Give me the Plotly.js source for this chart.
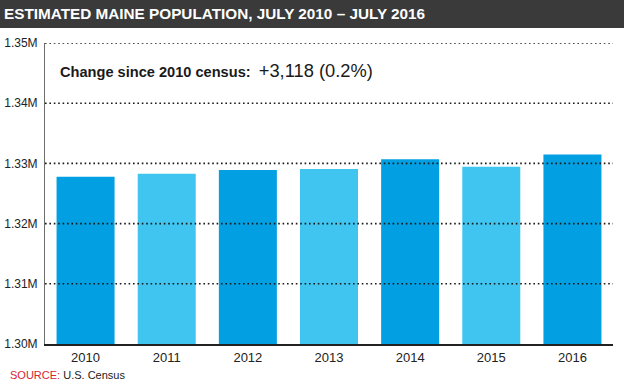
<!DOCTYPE html>
<html>
<head>
<meta charset="utf-8">
<script src="https://cdn.plot.ly/plotly-3.0.1.min.js"></script>
<style>
  html, body { margin: 0; padding: 0; background: #ffffff; }
  #chart { width: 624px; height: 390px; }
</style>
</head>
<body>
<div id="chart"></div>
<script>
// ---- data ----
const years = ['2010', '2011', '2012', '2013', '2014', '2015', '2016'];
const population = [1327780, 1328270, 1328890, 1329050, 1330710, 1329440, 1331460];
const yTickVals = [1300000, 1310000, 1320000, 1330000, 1340000, 1350000];
const yTickText = ['1.30M', '1.31M', '1.32M', '1.33M', '1.34M', '1.35M'];
const titleText = 'ESTIMATED MAINE POPULATION, JULY 2010 \u2013 JULY 2016';
const changeLabel = 'Change since 2010 census:';
const changeValue = '+3,118 (0.2%)';
const sourceLabel = 'SOURCE:';
const sourceText = 'U.S. Census';

// ---- style ----
const DARK = '#02a0e2';
const LIGHT = '#40c5f1';
const barColors = years.map((_, i) => (i % 2 === 0 ? DARK : LIGHT));
const FONT = 'Liberation Sans, Arial, sans-serif';
const W = 624, H = 390;
const M = { l: 45, r: 11, t: 43, b: 46 };
const PW = W - M.l - M.r, PH = H - M.t - M.b;

const trace = {
  type: 'bar',
  x: years,
  y: population,
  marker: { color: barColors, line: { width: 0 } },
  width: 0.715,
  hoverinfo: 'x+y'
};

const gridShapes = yTickVals.slice(1).map(v => ({
  type: 'line', xref: 'paper', yref: 'y',
  x0: 0, x1: 1, y0: v, y1: v,
  line: { color: '#1a1a1a', width: 1.6, dash: '1.6px,2.8px' },
  layer: 'above'
}));

const titleBar = {
  type: 'rect', xref: 'paper', yref: 'paper',
  x0: -M.l / PW, x1: 1 + M.r / PW,
  y0: 1 + (M.t - 28) / PH, y1: 1 + M.t / PH,
  fillcolor: '#3a3a3b', line: { width: 0 }, layer: 'below'
};

const layout = {
  width: W, height: H,
  margin: M,
  paper_bgcolor: '#ffffff',
  plot_bgcolor: '#ffffff',
  showlegend: false,
  bargap: 0.285,
  title: {
    text: '<b>' + titleText + '</b>',
    x: 4 / W, xanchor: 'left', xref: 'container',
    y: 1 - 14 / H, yanchor: 'middle', yref: 'container',
    font: { family: FONT, size: 15.3, color: '#ffffff' }
  },
  xaxis: {
    type: 'category',
    range: [-0.5, years.length - 0.5],
    showgrid: false,
    showline: true, linecolor: '#222222', linewidth: 1.5,
    ticks: '', ticklabelstandoff: 1,
    tickfont: { family: FONT, size: 13, color: '#222222' },
    fixedrange: true, layer: 'above traces'
  },
  yaxis: {
    range: [1300000, 1350000],
    tickvals: yTickVals, ticktext: yTickText,
    showgrid: false, zeroline: false,
    showline: true, linecolor: '#6e6e6e', linewidth: 1,
    ticks: '', ticklabelstandoff: 4,
    tickfont: { family: FONT, size: 12, color: '#222222' },
    fixedrange: true
  },
  shapes: [titleBar].concat(gridShapes),
  annotations: [
    {
      xref: 'paper', yref: 'paper',
      x: (58 - M.l) / PW, y: 1 - (70 - M.t) / PH,
      xanchor: 'left', yanchor: 'middle', showarrow: false,
      text: '<b>' + changeLabel + '</b>&nbsp; <span style="font-size:18.3px">' + changeValue + '</span>',
      font: { family: FONT, size: 14.6, color: '#1a1a1a' }
    },
    {
      xref: 'paper', yref: 'paper',
      x: (8 - M.l) / PW, y: -(375 - (M.t + PH)) / PH,
      xanchor: 'left', yanchor: 'middle', showarrow: false,
      text: '<span style="color:#d8242f">' + sourceLabel + '</span> ' + sourceText,
      font: { family: FONT, size: 11, color: '#222222' }
    }
  ]
};

Plotly.newPlot('chart', [trace], layout, { displayModeBar: false, staticPlot: true });
</script>
</body>
</html>
